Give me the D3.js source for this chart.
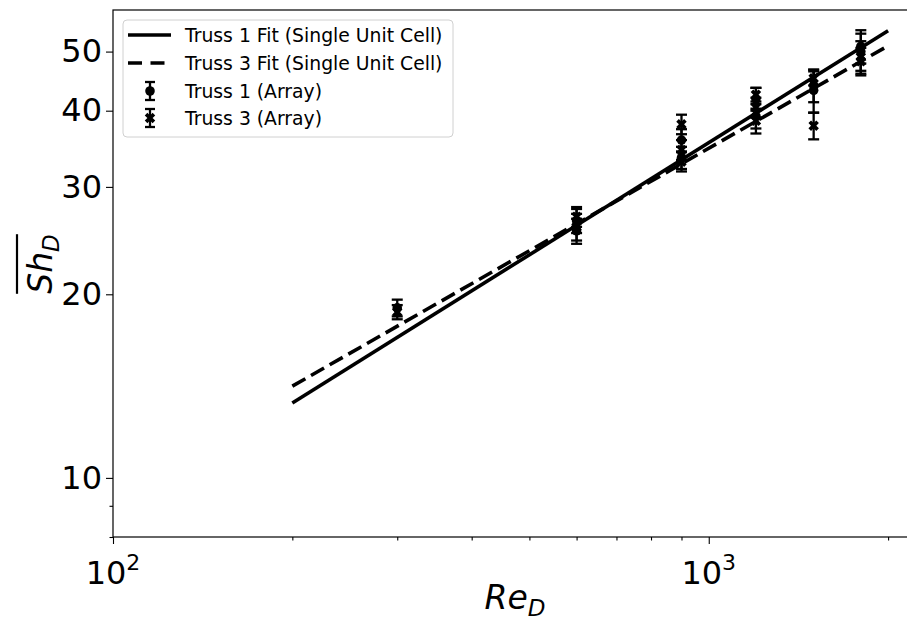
<!DOCTYPE html>
<html>
<head>
<meta charset="utf-8">
<script src="https://cdn.jsdelivr.net/npm/d3@7"></script>
<style>
  html, body { margin: 0; padding: 0; background: #fff; }
  svg { display: block; font-family: "DejaVu Sans", sans-serif; }
</style>
</head>
<body>
<svg id="chart" width="907" height="620"></svg>
<script>
// Fitted power-law lines (single unit cell), evaluated at the ends of their range
const fitRe = [200, 2000];
const truss1Fit = [13.27, 54.1];
const truss3Fit = [14.14, 51.1];

// Array measurements: Reynolds number, Sherwood number and error
const truss1Re  = [300, 600, 600, 900, 900, 1200, 1200, 1500, 1500, 1800, 1800];
const truss1Sh  = [19.0, 26.4, 25.4, 35.8, 33.5, 41.8, 39.2, 44.0, 43.2, 51.0, 50.0];
const truss1Err = [0.6, 1.2, 1.2, 1.5, 1.4, 1.8, 1.8, 2.7, 3.5, 3.2, 3.5];

const truss3Re  = [300, 600, 600, 900, 900, 900, 1200, 1200, 1200, 1500, 1500, 1800, 1800];
const truss3Sh  = [18.7, 26.8, 25.8, 38.0, 34.5, 33.0, 42.5, 40.5, 38.5, 45.2, 37.8, 49.0, 48.2];
const truss3Err = [0.5, 1.0, 1.3, 1.4, 1.3, 1.2, 1.1, 1.5, 1.8, 1.2, 1.9, 3.0, 2.5];

// Tick values
const xMajorTicks = [100, 1000];
const xMinorTicks = [200, 300, 400, 500, 600, 700, 800, 900, 2000];
const yLabelTicks = [10, 20, 30, 40, 50];
const yMinorTicks = [8, 9];

const legendLabels = ["Truss 1 Fit (Single Unit Cell)", "Truss 3 Fit (Single Unit Cell)", "Truss 1 (Array)", "Truss 3 (Array)"];

const svg = d3.select("#chart");
const plot = { left: 113, top: 10, right: 908, bottom: 537 };

const x = d3.scaleLog().domain([100, 2160]).range([plot.left, plot.right]);
const y = d3.scaleLog().domain([8, 58.5]).range([plot.bottom, plot.top]);

svg.append("defs").append("clipPath").attr("id", "clip")
  .append("rect").attr("x", plot.left).attr("y", plot.top)
  .attr("width", plot.right - plot.left).attr("height", plot.bottom - plot.top);

const g = svg.append("g").attr("clip-path", "url(#clip)");

// Fit lines
const fitLine = (vals) => d3.line()
  .x((d, i) => x(fitRe[i]))
  .y(d => y(d))(vals);

g.append("path").attr("d", fitLine(truss1Fit))
  .attr("fill", "none").attr("stroke", "#000").attr("stroke-width", 3.6);
g.append("path").attr("d", fitLine(truss3Fit))
  .attr("fill", "none").attr("stroke", "#000").attr("stroke-width", 3.6)
  .attr("stroke-dasharray", "15,6.5");

const capHalf = 5.5;
const circleSym = d3.symbol().type(d3.symbolCircle).size(72);
// Filled "X" marker
const xSymbolType = {
  draw(ctx, size) {
    const s = Math.sqrt(size);
    const pts = [[-0.25,-0.5],[0,-0.25],[0.25,-0.5],[0.5,-0.25],[0.25,0],[0.5,0.25],
                 [0.25,0.5],[0,0.25],[-0.25,0.5],[-0.5,0.25],[-0.25,0],[-0.5,-0.25]];
    pts.forEach((p, i) => i ? ctx.lineTo(p[0]*s, p[1]*s) : ctx.moveTo(p[0]*s, p[1]*s));
    ctx.closePath();
  }
};
const crossSym = d3.symbol().type(xSymbolType).size(110);

function drawErrorbars(res, vals, errs, sym) {
  const grp = g.append("g");
  res.forEach((re, i) => {
    const cx = x(re);
    const y0 = y(vals[i] - errs[i]);
    const y1 = y(vals[i] + errs[i]);
    grp.append("line").attr("x1", cx).attr("x2", cx).attr("y1", y0).attr("y2", y1)
      .attr("stroke", "#000").attr("stroke-width", 2.3);
    [y0, y1].forEach(yy => grp.append("line")
      .attr("x1", cx - capHalf).attr("x2", cx + capHalf).attr("y1", yy).attr("y2", yy)
      .attr("stroke", "#000").attr("stroke-width", 2.3));
    grp.append("path").attr("d", sym())
      .attr("transform", `translate(${cx},${y(vals[i])})`)
      .attr("fill", "#000");
  });
}
drawErrorbars(truss1Re, truss1Sh, truss1Err, circleSym);
drawErrorbars(truss3Re, truss3Sh, truss3Err, crossSym);

// Axes
const xAxis = d3.axisBottom(x).tickValues(xMajorTicks).tickSize(7).tickFormat("");
const xMinor = d3.axisBottom(x).tickValues(xMinorTicks).tickSize(3.5).tickFormat("");
const yAxis = d3.axisLeft(y).tickValues(yLabelTicks).tickSize(7).tickFormat(d3.format("d")).tickPadding(4);
const yMinor = d3.axisLeft(y).tickValues(yMinorTicks).tickSize(3.5).tickFormat("");

function styleAxis(sel) {
  sel.select(".domain").remove();
  sel.selectAll(".tick line").attr("stroke", "#000").attr("stroke-width", 1.1);
  sel.selectAll("text").attr("font-family", "DejaVu Sans").attr("fill", "#000");
}

svg.append("g").attr("transform", `translate(0,${plot.bottom})`).call(xAxis).call(styleAxis);
svg.append("g").attr("transform", `translate(0,${plot.bottom})`).call(xMinor).call(styleAxis);
const yg = svg.append("g").attr("transform", `translate(${plot.left},0)`).call(yAxis).call(styleAxis);
yg.selectAll("text").attr("font-size", 32);
svg.append("g").attr("transform", `translate(${plot.left},0)`).call(yMinor).call(styleAxis);

// X tick labels as powers of ten
xMajorTicks.forEach(v => {
  const t = svg.append("text").attr("x", x(v)).attr("y", 584)
    .attr("text-anchor", "middle").attr("font-size", 32).attr("fill", "#000");
  t.append("tspan").text("10");
  t.append("tspan").text(Math.round(Math.log10(v))).attr("font-size", 22).attr("dy", -14);
});

// Frame
svg.append("rect").attr("x", plot.left).attr("y", plot.top)
  .attr("width", plot.right - plot.left).attr("height", plot.bottom - plot.top)
  .attr("fill", "none").attr("stroke", "#000").attr("stroke-width", 1.2);

// Axis titles
const xt = svg.append("text").attr("x", 515).attr("y", 609)
  .attr("text-anchor", "middle").attr("font-size", 33).attr("font-style", "italic").attr("fill", "#000");
xt.append("tspan").text("Re");
xt.append("tspan").text("D").attr("font-size", 23).attr("dy", 7);

const yt = svg.append("g").attr("transform", "translate(52,264) rotate(-90)");
const ytText = yt.append("text").attr("x", 0).attr("y", 0)
  .attr("text-anchor", "middle").attr("font-size", 33).attr("font-style", "italic").attr("fill", "#000");
ytText.append("tspan").text("Sh");
ytText.append("tspan").text("D").attr("font-size", 23).attr("dy", 7);
const bb = ytText.node().getBBox();
yt.append("line").attr("x1", bb.x).attr("x2", bb.x + bb.width)
  .attr("y1", -35).attr("y2", -35).attr("stroke", "#000").attr("stroke-width", 2.2);

// Legend
const lg = svg.append("g");
lg.append("rect").attr("x", 123).attr("y", 20).attr("width", 330).attr("height", 117)
  .attr("rx", 4).attr("fill", "#fff").attr("fill-opacity", 0.8)
  .attr("stroke", "#d0d0d0").attr("stroke-width", 1);
const rowY = [35, 63, 91, 118];
legendLabels.forEach((lab, i) => {
  lg.append("text").attr("x", 185).attr("y", rowY[i]).attr("dy", "0.35em")
    .attr("font-size", 18.8).attr("fill", "#000").text(lab);
});
lg.append("line").attr("x1", 128).attr("x2", 171).attr("y1", rowY[0]).attr("y2", rowY[0])
  .attr("stroke", "#000").attr("stroke-width", 3.6);
lg.append("line").attr("x1", 128).attr("x2", 171).attr("y1", rowY[1]).attr("y2", rowY[1])
  .attr("stroke", "#000").attr("stroke-width", 3.6).attr("stroke-dasharray", "14,8.5");
[circleSym, crossSym].forEach((sym, k) => {
  const cy = rowY[2 + k], cx = 150;
  lg.append("line").attr("x1", cx).attr("x2", cx).attr("y1", cy - 9).attr("y2", cy + 9)
    .attr("stroke", "#000").attr("stroke-width", 2.3);
  [cy - 9, cy + 9].forEach(yy => lg.append("line").attr("x1", cx - 5).attr("x2", cx + 5)
    .attr("y1", yy).attr("y2", yy).attr("stroke", "#000").attr("stroke-width", 2.3));
  lg.append("path").attr("d", sym()).attr("transform", `translate(${cx},${cy})`).attr("fill", "#000");
});
</script>
</body>
</html>
